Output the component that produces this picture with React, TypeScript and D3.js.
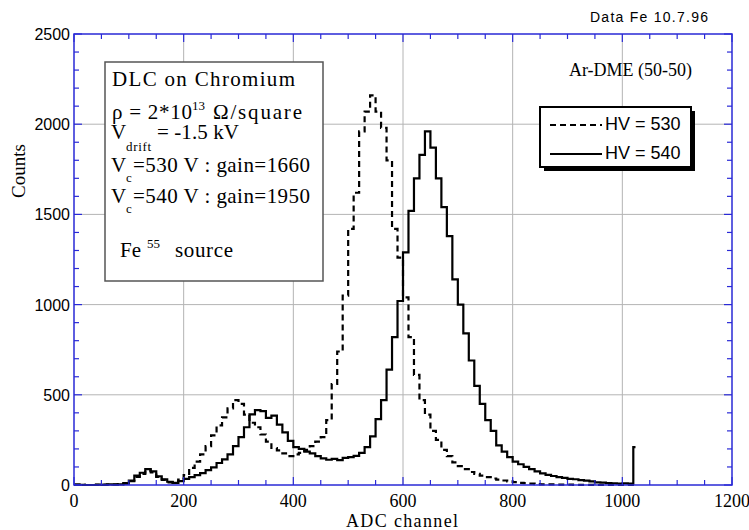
import React from "react";
import * as d3 from "d3";

// ---- data (10-channel bins, value = counts) ----
const binStarts = d3.range(0, 1030, 10);

const countsHV540 = [
  2, 1, 0, 0, 2, 1, 3, 2, 4, 8,
  25, 52, 68, 88, 76, 48, 32, 18, 12, 22,
  34, 44, 55, 66, 82, 98, 122, 142, 170, 215,
  265, 320, 392, 415, 410, 372, 385, 335, 292, 245,
  210, 200, 185, 175, 160, 148, 140, 145, 138, 150,
  155, 162, 178, 210, 270, 365, 470, 640, 820, 1020,
  1290, 1520, 1700, 1830, 1960, 1870, 1700, 1540, 1380, 1140,
  1000, 840, 690, 550, 450, 360, 300, 220, 185, 155,
  130, 115, 100, 88, 76, 64, 56, 50, 44, 40,
  34, 32, 27, 24, 20, 15, 13, 10, 9, 8,
  9, 8, 210,
];

const countsHV530 = [
  2, 1, 0, 0, 1, 2, 2, 3, 5, 10,
  22, 45, 62, 80, 70, 45, 28, 15, 12, 30,
  55, 95, 130, 170, 215, 275, 330, 375, 425, 470,
  450, 390, 345, 320, 280, 240, 205, 192, 175, 160,
  170, 178, 195, 215, 240, 265, 360, 560, 740, 1050,
  1420, 1620, 1960, 2070, 2160, 2070, 1980, 1800, 1420, 1260,
  1040, 820, 610, 470, 390, 300, 250, 195, 160, 125,
  105, 88, 72, 62, 52, 44, 36, 30, 25, 20,
  16, 12, 10, 8, 5, 4, 3, 3, 2, 2,
  2, 1, 1, 1, 1, 0, 0, 0, 0, 0,
  0, 0, 0,
];

const xMajorTicks = [0, 200, 400, 600, 800, 1000, 1200];
const yMajorTicks = [0, 500, 1000, 1500, 2000, 2500];
const xMinorTicks = d3.range(0, 1201, 50);
const yMinorTicks = d3.range(0, 2501, 100);

const legendLabels = ["HV = 530", "HV = 540"];

// ---- layout ----
const W = 749;
const H = 530;
const L = 74, R = 732, T = 34, B = 485;
const AXIS = "#2a2ad6";
const GRID = "#b4b4b4";
const SERIF = "'Liberation Serif', 'Times New Roman', serif";
const SANS = "'Liberation Sans', Arial, sans-serif";

const x = d3.scaleLinear().domain([0, 1200]).range([L, R]);
const y = d3.scaleLinear().domain([0, 2500]).range([B, T]);

function toPoints(vals: number[]): [number, number][] {
  const pts: [number, number][] = binStarts.map((c, i) => [c, vals[i]]);
  pts.push([binStarts[binStarts.length - 1] + 4, vals[vals.length - 1]]);
  return pts;
}

const line = d3
  .line<[number, number]>()
  .x((d) => x(d[0]))
  .y((d) => y(d[1]))
  .curve(d3.curveStepAfter);

type Piece = { t: string; x: number; y: number; fs: number; w?: number };

const boxPieces: Piece[] = [
  { t: "DLC on Chromium", x: 112, y: 86, fs: 21, w: 183 },
  { t: "ρ = 2*10", x: 112, y: 119, fs: 21, w: 80 },
  { t: "13", x: 192, y: 110, fs: 13 },
  { t: "Ω/square", x: 213, y: 119, fs: 21, w: 89 },
  { t: "V", x: 111, y: 139, fs: 21 },
  { t: "drift", x: 126, y: 151, fs: 13, w: 25 },
  { t: "= -1.5 kV", x: 157, y: 139, fs: 21, w: 82 },
  { t: "V", x: 111, y: 172, fs: 21 },
  { t: "c", x: 126, y: 182, fs: 13 },
  { t: "=530 V : gain=1660", x: 133, y: 172, fs: 21, w: 177 },
  { t: "V", x: 111, y: 203, fs: 21 },
  { t: "c", x: 126, y: 213, fs: 13 },
  { t: "=540 V : gain=1950", x: 133, y: 203, fs: 21, w: 177 },
  { t: "Fe", x: 120, y: 257, fs: 21, w: 21 },
  { t: "55", x: 147, y: 248, fs: 13 },
  { t: "source", x: 175, y: 257, fs: 21, w: 58 },
];

export default function App() {
  const path540 = line(toPoints(countsHV540)) || "";
  const path530 = line(toPoints(countsHV530)) || "";

  return (
    <svg
      width={W}
      height={H}
      viewBox={`0 0 ${W} ${H}`}
      style={{ position: "absolute", left: 0, top: 0, background: "#fff" }}
    >
      <rect x={0} y={0} width={W} height={H} fill="#fff" />

      {/* grid */}
      {xMajorTicks.slice(1, -1).map((t) => (
        <line key={"gx" + t} x1={x(t)} x2={x(t)} y1={T} y2={B} stroke={GRID} strokeWidth={1} />
      ))}
      {yMajorTicks.slice(1, -1).map((t) => (
        <line key={"gy" + t} x1={L} x2={R} y1={y(t)} y2={y(t)} stroke={GRID} strokeWidth={1} />
      ))}

      {/* curves */}
      <path d={path530} fill="none" stroke="#000" strokeWidth={2.2} strokeDasharray="6,4" />
      <path d={path540} fill="none" stroke="#000" strokeWidth={2.2} />

      {/* frame */}
      <rect x={L} y={T} width={R - L} height={B - T} fill="none" stroke={AXIS} strokeWidth={1.5} />

      {/* ticks, inward on all four sides */}
      {xMinorTicks.map((t) => {
        const len = t % 200 === 0 ? 8 : 5;
        return (
          <g key={"xt" + t}>
            <line x1={x(t)} x2={x(t)} y1={B} y2={B - len} stroke={AXIS} strokeWidth={1.2} />
            <line x1={x(t)} x2={x(t)} y1={T} y2={T + len} stroke={AXIS} strokeWidth={1.2} />
          </g>
        );
      })}
      {yMinorTicks.map((t) => {
        const len = t % 500 === 0 ? 8 : 5;
        return (
          <g key={"yt" + t}>
            <line x1={L} x2={L + len} y1={y(t)} y2={y(t)} stroke={AXIS} strokeWidth={1.2} />
            <line x1={R} x2={R - len} y1={y(t)} y2={y(t)} stroke={AXIS} strokeWidth={1.2} />
          </g>
        );
      })}

      {/* tick labels */}
      {xMajorTicks.map((t) => (
        <text key={"xl" + t} x={x(t)} y={507} fontFamily={SERIF} fontSize={18} textAnchor="middle">
          {t}
        </text>
      ))}
      {yMajorTicks.map((t) => (
        <text key={"yl" + t} x={70} y={y(t) + 6} fontFamily={SANS} fontSize={16} textAnchor="end">
          {t}
        </text>
      ))}

      {/* axis titles */}
      <text x={402} y={527} fontFamily={SERIF} fontSize={18} textAnchor="middle" textLength={112} lengthAdjust="spacing">
        ADC channel
      </text>
      <text
        transform="translate(25,171) rotate(-90)"
        fontFamily={SERIF}
        fontSize={19}
        textAnchor="middle"
      >
        Counts
      </text>

      {/* top-right notes */}
      <text x={590} y={22} fontFamily={SANS} fontSize={14} textLength={118} lengthAdjust="spacing">
        Data  Fe  10.7.96
      </text>
      <text x={692} y={76} fontFamily={SERIF} fontSize={18} textAnchor="end">
        Ar-DME (50-50)
      </text>

      {/* info box */}
      <rect x={105} y={62} width={218} height={219} fill="#fff" stroke="#555" strokeWidth={1.5} />
      <g fontFamily={SERIF} fill="#000">
        {boxPieces.map((p, i) => (
          <text
            key={"bp" + i}
            x={p.x}
            y={p.y}
            fontSize={p.fs}
            textLength={p.w}
            lengthAdjust={p.w ? "spacing" : undefined}
          >
            {p.t}
          </text>
        ))}
      </g>

      {/* legend */}
      <rect x={544} y={111} width={151} height={60} fill="#000" />
      <rect x={540} y={107} width={151} height={60} fill="#fff" stroke="#000" strokeWidth={2} />
      <line x1={550} x2={602} y1={125} y2={125} stroke="#000" strokeWidth={2.2} strokeDasharray="6,4" />
      <line x1={550} x2={602} y1={154} y2={154} stroke="#000" strokeWidth={2.2} />
      <text x={605} y={130} fontFamily={SANS} fontSize={18}>{legendLabels[0]}</text>
      <text x={605} y={159} fontFamily={SANS} fontSize={18}>{legendLabels[1]}</text>
    </svg>
  );
}
